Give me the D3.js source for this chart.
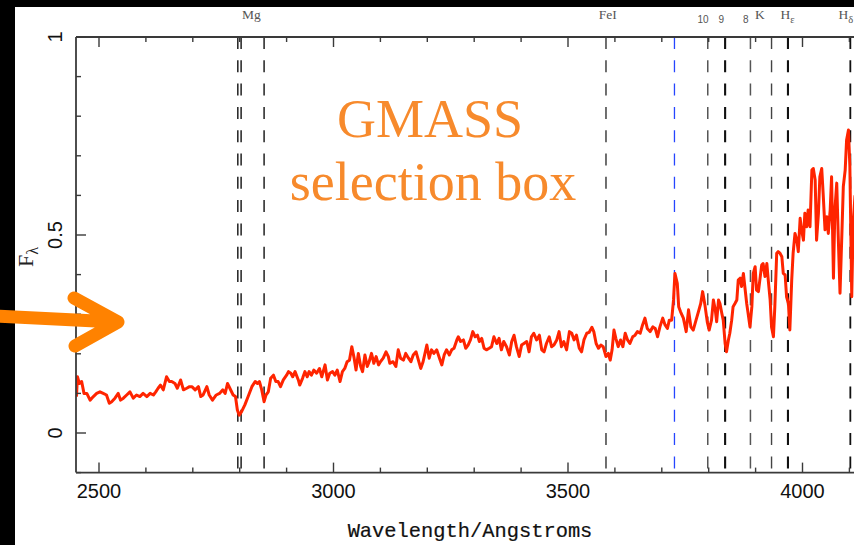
<!DOCTYPE html>
<html>
<head>
<meta charset="utf-8">
<script src="https://cdn.jsdelivr.net/npm/d3@7"></script>
<style>
  html, body { margin: 0; padding: 0; background: #000; }
  svg { display: block; }
</style>
</head>
<body>
<div id="chart"></div>
<script>
// Spectrum (Angstroms, F_lambda)
const specWave = [
  2452, 2454, 2458, 2463, 2468, 2474, 2481, 2488, 2495, 2502, 2509, 2516, 2522, 2527, 2534, 2541,
  2546, 2552, 2559, 2566, 2573, 2580, 2587, 2594, 2602, 2609, 2616, 2621, 2626, 2631, 2637, 2644,
  2650, 2655, 2662, 2667, 2674, 2680, 2687, 2693, 2698, 2705, 2712, 2717, 2722, 2730, 2735, 2742,
  2750, 2757, 2764, 2769, 2774, 2779, 2786, 2791, 2795, 2799, 2804, 2811, 2818, 2826, 2833, 2838,
  2842, 2847, 2852, 2856, 2861, 2866, 2872, 2877, 2882, 2887, 2893, 2900, 2904, 2909, 2913, 2918,
  2925, 2928, 2934, 2939, 2944, 2948, 2953, 2958, 2964, 2970, 2975, 2978, 2982, 2987, 2992, 2998,
  3003, 3008, 3014, 3019, 3024, 3029, 3034, 3039, 3044, 3048, 3053, 3058, 3062, 3067, 3072, 3076,
  3081, 3086, 3091, 3096, 3100, 3106, 3112, 3117, 3120, 3127, 3133, 3138, 3143, 3149, 3154, 3160,
  3165, 3170, 3176, 3181, 3186, 3191, 3199, 3204, 3209, 3214, 3220, 3226, 3231, 3236, 3241, 3247,
  3252, 3257, 3263, 3266, 3271, 3277, 3282, 3287, 3292, 3297, 3302, 3307, 3311, 3316, 3321, 3326,
  3332, 3337, 3342, 3348, 3353, 3358, 3363, 3369, 3375, 3380, 3385, 3390, 3396, 3401, 3406, 3412,
  3417, 3422, 3427, 3433, 3439, 3444, 3449, 3454, 3460, 3465, 3470, 3476, 3481, 3486, 3491, 3497,
  3503, 3508, 3513, 3518, 3524, 3529, 3534, 3540, 3545, 3551, 3555, 3560, 3565, 3570, 3575, 3581,
  3586, 3590, 3594, 3598, 3602, 3607, 3612, 3617, 3622, 3627, 3632, 3638, 3643, 3648, 3654, 3659,
  3664, 3669, 3675, 3681, 3686, 3691, 3696, 3702, 3707, 3712, 3716, 3721, 3725, 3728, 3733, 3736,
  3740, 3746, 3752, 3757, 3762, 3767, 3773, 3778, 3783, 3787, 3792, 3797, 3801, 3806, 3810, 3814,
  3817, 3821, 3824, 3828, 3831, 3835, 3838, 3842, 3845, 3849, 3852, 3856, 3860, 3863, 3867, 3870,
  3874, 3877, 3881, 3884, 3888, 3892, 3895, 3899, 3902, 3906, 3909, 3913, 3916, 3920, 3924, 3927,
  3931, 3934, 3938, 3941, 3945, 3948, 3952, 3956, 3959, 3963, 3966, 3970, 3973, 3977, 3980, 3984,
  3988, 3991, 3995, 3998, 4002, 4005, 4009, 4012, 4016, 4020, 4023, 4027, 4030, 4034, 4037, 4041,
  4044, 4048, 4052, 4055, 4059, 4062, 4066, 4069, 4073, 4076, 4080, 4084, 4087, 4091, 4094, 4098,
  4101, 4105, 4108, 4112
];
const specFlux = [
  0.092, 0.142, 0.125, 0.130, 0.100, 0.100, 0.083, 0.092, 0.100, 0.104, 0.100, 0.096, 0.075, 0.079, 0.088, 0.100,
  0.083, 0.088, 0.096, 0.104, 0.088, 0.096, 0.092, 0.100, 0.092, 0.100, 0.096, 0.104, 0.113, 0.121, 0.109, 0.142,
  0.130, 0.130, 0.125, 0.113, 0.134, 0.109, 0.113, 0.117, 0.117, 0.109, 0.117, 0.092, 0.096, 0.117, 0.096, 0.083,
  0.096, 0.100, 0.109, 0.100, 0.125, 0.113, 0.096, 0.092, 0.058, 0.045, 0.054, 0.071, 0.092, 0.117, 0.130, 0.125,
  0.130, 0.109, 0.079, 0.096, 0.104, 0.138, 0.146, 0.130, 0.130, 0.117, 0.134, 0.146, 0.155, 0.151, 0.142, 0.155,
  0.134, 0.121, 0.138, 0.155, 0.142, 0.155, 0.146, 0.159, 0.151, 0.163, 0.142, 0.155, 0.172, 0.134, 0.151, 0.155,
  0.146, 0.159, 0.130, 0.155, 0.163, 0.180, 0.184, 0.218, 0.189, 0.159, 0.201, 0.168, 0.155, 0.197, 0.168, 0.180,
  0.201, 0.176, 0.193, 0.172, 0.180, 0.189, 0.205, 0.193, 0.176, 0.180, 0.168, 0.210, 0.189, 0.184, 0.201, 0.189,
  0.180, 0.197, 0.205, 0.184, 0.163, 0.180, 0.222, 0.189, 0.210, 0.201, 0.210, 0.189, 0.172, 0.197, 0.210, 0.197,
  0.210, 0.214, 0.235, 0.243, 0.231, 0.235, 0.214, 0.222, 0.235, 0.256, 0.243, 0.247, 0.231, 0.239, 0.214, 0.210,
  0.214, 0.218, 0.243, 0.226, 0.239, 0.210, 0.231, 0.218, 0.197, 0.231, 0.247, 0.218, 0.193, 0.222, 0.226, 0.231,
  0.205, 0.243, 0.252, 0.235, 0.247, 0.210, 0.205, 0.226, 0.243, 0.218, 0.222, 0.235, 0.256, 0.218, 0.231, 0.210,
  0.256, 0.252, 0.235, 0.247, 0.214, 0.205, 0.235, 0.252, 0.254, 0.267, 0.256, 0.226, 0.214, 0.222, 0.218, 0.193,
  0.201, 0.184, 0.210, 0.260, 0.239, 0.218, 0.235, 0.218, 0.252, 0.235, 0.226, 0.243, 0.247, 0.256, 0.252, 0.273,
  0.290, 0.264, 0.256, 0.268, 0.264, 0.243, 0.268, 0.290, 0.273, 0.264, 0.285, 0.285, 0.336, 0.403, 0.378, 0.319,
  0.306, 0.290, 0.256, 0.311, 0.268, 0.260, 0.285, 0.306, 0.327, 0.357, 0.323, 0.280, 0.260, 0.285, 0.336, 0.311,
  0.281, 0.336, 0.327, 0.302, 0.285, 0.226, 0.205, 0.235, 0.252, 0.285, 0.319, 0.327, 0.336, 0.386, 0.391, 0.370,
  0.403, 0.370, 0.327, 0.302, 0.268, 0.319, 0.403, 0.420, 0.361, 0.357, 0.386, 0.424, 0.428, 0.395, 0.428, 0.386,
  0.336, 0.268, 0.243, 0.319, 0.454, 0.458, 0.454, 0.445, 0.403, 0.399, 0.344, 0.327, 0.260, 0.386, 0.454, 0.504,
  0.487, 0.458, 0.542, 0.513, 0.487, 0.555, 0.521, 0.563, 0.521, 0.664, 0.668, 0.639, 0.487, 0.555, 0.647, 0.668,
  0.605, 0.513, 0.546, 0.504, 0.563, 0.647, 0.391, 0.563, 0.631, 0.504, 0.353, 0.504, 0.622, 0.664, 0.740, 0.765,
  0.673, 0.344, 0.530, 0.600
];

// Spectral features marked with dashed lines
const lineWaves = [2796, 2803, 2852, 3581, 3727, 3798, 3835, 3889, 3934, 3969, 4102];
const lineKinds = ['ism', 'ism', 'ism', 'metal', 'oii', 'balmer', 'balmerStrong', 'balmer', 'caK', 'balmerStrong', 'balmerD'];

// Top labels
const labelText = ['Mg', 'FeI', '10', '9', '8', 'K', 'H', 'H'];
const labelSub = ['', '', '', '', '', '', 'ε', 'δ'];
const labelWave = [2825, 3585, 3788, 3827, 3879, 3909, 3953, 4077];

const xMajorTicks = [2500, 3000, 3500, 4000];
const xMinorTicks = d3.range(2500, 4200, 100);
const yMajorTicks = [0, 0.5, 1];
const yMinorTicks = d3.range(-0.1, 1.0001, 0.1);

function drawChart() {
    const width = 854;
    const height = 545;
    const plot = { left: 76, top: 37, right: 860, bottom: 472.6 };

    const x = d3.scaleLinear().domain([2500, 4000]).range([99, 802.5]);
    const y = d3.scaleLinear().domain([-0.1, 1]).range([plot.bottom, plot.top]);

    const svg = d3.select('#chart')
        .append('svg')
        .attr('width', width)
        .attr('height', height);

    // black slide background with the white figure on it
    svg.append('rect').attr('width', width).attr('height', height).attr('fill', '#000');
    svg.append('rect')
        .attr('x', 15).attr('y', 7)
        .attr('width', width - 15).attr('height', height - 7)
        .attr('fill', '#fff');

    svg.append('defs').append('clipPath')
        .attr('id', 'plot-clip')
        .append('rect')
        .attr('x', plot.left).attr('y', plot.top)
        .attr('width', plot.right - plot.left).attr('height', plot.bottom - plot.top);

    // feature lines
    const lineStyle = {
        ism: { color: '#111', width: 1.4 },
        metal: { color: '#333', width: 1.4 },
        oii: { color: '#2545ff', width: 1.3 },
        balmer: { color: '#555', width: 1.5 },
        balmerStrong: { color: '#111', width: 2.1 },
        caK: { color: '#444', width: 1.4 },
        balmerD: { color: '#111', width: 1.8 }
    };

    svg.append('g')
        .selectAll('line')
        .data(lineWaves)
        .enter()
        .append('line')
        .attr('x1', d => x(d)).attr('x2', d => x(d))
        .attr('y1', plot.top).attr('y2', plot.bottom)
        .attr('stroke', (d, i) => lineStyle[lineKinds[i]].color)
        .attr('stroke-width', (d, i) => lineStyle[lineKinds[i]].width)
        .attr('stroke-dasharray', '12,11.3');

    // spectrum
    const spectrum = specWave.map((w, i) => [w, specFlux[i]]);
    svg.append('path')
        .datum(spectrum)
        .attr('clip-path', 'url(#plot-clip)')
        .attr('fill', 'none')
        .attr('stroke', '#ff2400')
        .attr('stroke-width', 3)
        .attr('stroke-linejoin', 'round')
        .attr('d', d3.line().x(d => x(d[0])).y(d => y(d[1])));

    // frame
    const frame = svg.append('g')
        .attr('stroke', '#3a3a3a')
        .attr('stroke-width', 1.8);
    frame.append('line').attr('x1', plot.left).attr('x2', width).attr('y1', plot.bottom).attr('y2', plot.bottom);
    frame.append('line').attr('x1', plot.left).attr('x2', width).attr('y1', plot.top).attr('y2', plot.top);
    frame.append('line').attr('x1', plot.left).attr('x2', plot.left).attr('y1', plot.top).attr('y2', plot.bottom);

    // ticks, all pointing inwards
    const ticks = svg.append('g').attr('stroke', '#3a3a3a').attr('stroke-width', 1.4);
    const isMajorX = d => xMajorTicks.includes(d);
    ticks.selectAll('.xb')
        .data(xMinorTicks)
        .enter().append('line')
        .attr('x1', d => x(d)).attr('x2', d => x(d))
        .attr('y1', plot.bottom).attr('y2', d => plot.bottom - (isMajorX(d) ? 10 : 5));
    ticks.selectAll('.xt')
        .data(xMinorTicks)
        .enter().append('line')
        .attr('x1', d => x(d)).attr('x2', d => x(d))
        .attr('y1', plot.top).attr('y2', d => plot.top + (isMajorX(d) ? 10 : 5));
    ticks.selectAll('.yl')
        .data(yMinorTicks)
        .enter().append('line')
        .attr('y1', d => y(d)).attr('y2', d => y(d))
        .attr('x1', plot.left)
        .attr('x2', d => plot.left + (yMajorTicks.some(v => Math.abs(v - d) < 1e-6) ? 10 : 5));

    // tick labels
    svg.append('g')
        .selectAll('text')
        .data(xMajorTicks)
        .enter().append('text')
        .attr('x', d => x(d))
        .attr('y', 498)
        .attr('text-anchor', 'middle')
        .style('font-family', 'Liberation Sans, Arial, sans-serif')
        .style('font-size', '20px')
        .attr('fill', '#111')
        .text(d => d);

    svg.append('g')
        .selectAll('text')
        .data(yMajorTicks)
        .enter().append('text')
        .attr('transform', d => `translate(62, ${y(d)}) rotate(-90)`)
        .attr('text-anchor', 'middle')
        .style('font-family', 'Liberation Sans, Arial, sans-serif')
        .style('font-size', '20px')
        .attr('fill', '#111')
        .text(d => d);

    // axis titles
    svg.append('text')
        .attr('x', 470)
        .attr('y', 537)
        .attr('text-anchor', 'middle')
        .style('font-family', 'Liberation Mono, DejaVu Sans Mono, monospace')
        .style('font-size', '20.4px')
        .attr('fill', '#111')
        .attr('stroke', '#111')
        .attr('stroke-width', 0.2)
        .text('Wavelength/Angstroms');

    const yTitle = svg.append('text')
        .attr('transform', 'translate(33, 267) rotate(-90)')
        .style('font-family', 'Liberation Serif, Times New Roman, serif')
        .style('font-size', '22px')
        .attr('fill', '#222');
    yTitle.append('tspan').text('F');
    yTitle.append('tspan').attr('dy', 5).style('font-size', '16px').text('λ');

    // feature labels above the frame
    const labels = svg.append('g')
        .selectAll('text')
        .data(labelText)
        .enter().append('text')
        .attr('x', (d, i) => x(labelWave[i]))
        .attr('y', (d, i) => /^\d+$/.test(d) ? 23 : 19)
        .attr('text-anchor', (d, i) => labelSub[i] ? 'start' : 'middle')
        .style('font-family', d => /^\d+$/.test(d) ? 'Liberation Sans, Arial, sans-serif' : 'Liberation Serif, Times New Roman, serif')
        .style('font-size', d => /^\d+$/.test(d) ? '10px' : '13.5px')
        .attr('fill', '#555');
    labels.append('tspan').text(d => d);
    labels.append('tspan')
        .attr('dy', 4)
        .style('font-size', '10.5px')
        .text((d, i) => labelSub[i]);

    // slide annotation
    const note = svg.append('g')
        .style('font-family', 'Liberation Serif, Times New Roman, serif')
        .style('font-size', '54px')
        .attr('fill', '#f78a2c')
        .attr('text-anchor', 'middle');
    note.append('text').attr('x', 430).attr('y', 137).text('GMASS');
    note.append('text').attr('x', 433).attr('y', 200).text('selection box');

    // arrow pointing at the plot
    svg.append('path')
        .attr('d', 'M -6 316 L 116 322 M 74 298 L 118 322 L 75 346')
        .attr('fill', 'none')
        .attr('stroke', '#ff8200')
        .attr('stroke-width', 13)
        .attr('stroke-linecap', 'round')
        .attr('stroke-linejoin', 'round');
}

document.addEventListener('DOMContentLoaded', drawChart);
</script>
</body>
</html>
